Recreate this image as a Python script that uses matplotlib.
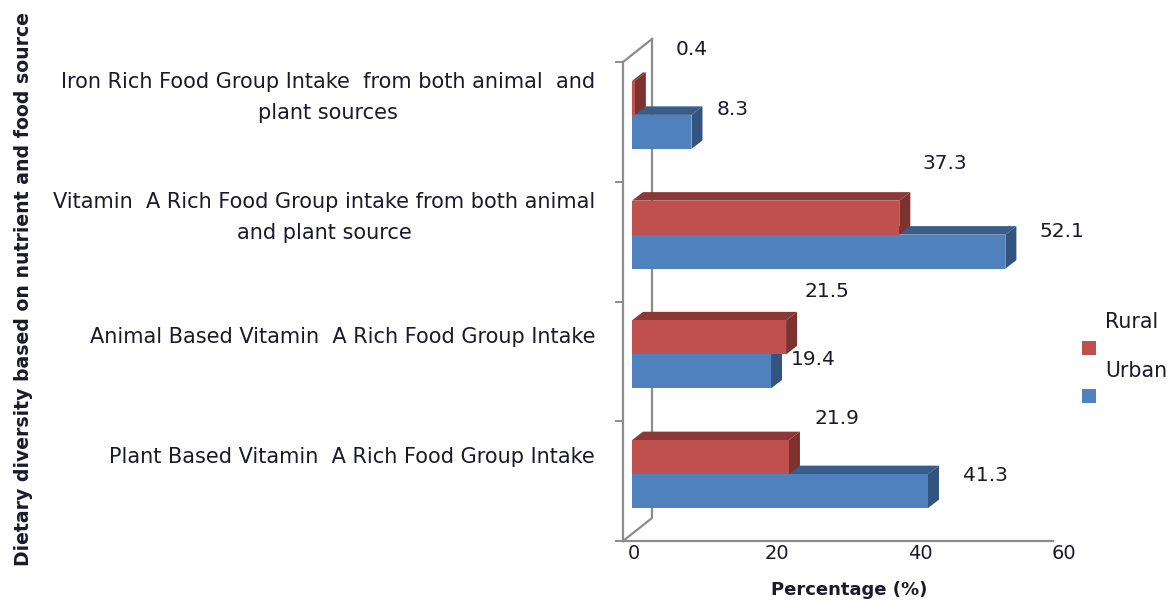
import numpy as np
import matplotlib
matplotlib.use("Agg")
from matplotlib import pyplot as plt
from matplotlib.patches import Polygon, Rectangle
from matplotlib.transforms import Affine2D

categories = ["Plant Based Vitamin  A Rich Food Group Intake",
              "Animal Based Vitamin  A Rich Food Group Intake",
              "Vitamin  A Rich Food Group intake from both animal\nand plant source",
              "Iron Rich Food Group Intake  from both animal  and\nplant sources"]
urban = [41.3, 19.4, 52.1, 8.3]
rural = [21.9, 21.5, 37.3, 0.4]
x_ticks = [0, 20, 40, 60]

W, H = 1172, 603
plt.rcParams['font.family'] = ['DejaVu Sans']
txt_col = "#1a1a2a"
axis_col = "#8c8c8c"

fig = plt.figure(figsize=(W / 100, H / 100), dpi=100)
# axes box is the front plane of the 3d frame, in image pixels
left, right, top, bottom = 623, 1053, 62, 541
ax = fig.add_axes([left / W, 1 - bottom / H, (right - left) / W, (bottom - top) / H])
ax.set_xlim(0, 60)
ax.set_ylim(0, 4)
ax.patch.set_visible(False)
for s in ["top", "right"]:
    ax.spines[s].set_visible(False)
for s in ["left", "bottom"]:
    ax.spines[s].set_color(axis_col)
    ax.spines[s].set_linewidth(1.6)

px = 60 / (right - left)   # data units per pixel
py = 4 / (bottom - top)

# back wall of the frame
wall_dx, wall_dy = 29 * px, 23 * py
ax.plot([0, wall_dx, wall_dx], [0, wall_dy, 4 + wall_dy], color=axis_col, lw=1.6, clip_on=False, zorder=1)
ax.plot([0, wall_dx], [4, 4 + wall_dy], color=axis_col, lw=1.6, clip_on=False, zorder=1)

# bars: front plane sits a little inside the frame
x0 = 9 * px
y_shift = 7 * py
bar_h = 34 * py
dx, dy = 11 * px, 8.5 * py
y = np.arange(len(categories)) + 0.5 + y_shift


def draw_bars(vals, ypos, front, side, topc, z):
    ax.barh(ypos, vals, height=bar_h, left=x0, color=front, linewidth=0, zorder=z + 0.2)
    for v, yy in zip(vals, ypos):
        x1 = x0 + v
        y0, y1 = yy - bar_h / 2, yy + bar_h / 2
        ax.add_patch(Polygon([(x0, y1), (x1, y1), (x1 + dx, y1 + dy), (x0 + dx, y1 + dy)],
                             facecolor=topc, edgecolor="none", zorder=z, clip_on=False))
        ax.add_patch(Polygon([(x1, y0), (x1, y1), (x1 + dx, y1 + dy), (x1 + dx, y0 + dy)],
                             facecolor=side, edgecolor="none", zorder=z + 0.1, clip_on=False))


draw_bars(urban, y - bar_h / 2, "#4f81bd", "#32547e", "#385d8a", 2)
draw_bars(rural, y + bar_h / 2, "#c0504d", "#7d3230", "#8c3836", 3)

# ticks
ax.set_xticks(x_ticks)
ax.set_xticklabels([str(t) for t in x_ticks], fontsize=14, color=txt_col)
ax.tick_params(axis="x", length=0, pad=2)
for lab in ax.get_xticklabels():
    lab.set_transform(lab.get_transform() + Affine2D().translate(11, 0))

ax.set_yticks(range(5))
ax.set_yticklabels([])
ax.tick_params(axis="y", which="major", length=6, width=1.4, color=axis_col)
ax.set_yticks(np.arange(4) + 0.5, minor=True)
ax.set_yticklabels(categories, minor=True, fontsize=15, color=txt_col, ha="right", linespacing=1.7)
ax.tick_params(axis="y", which="minor", length=0, pad=20)
for lab in ax.get_yticklabels(minor=True):
    lab.set_multialignment("center")
    shift = 32 if "\n" in lab.get_text() else 26
    lab.set_transform(lab.get_transform() + Affine2D().translate(0, shift))

# data labels, hand placed in the original
urban_off = [(57, 16), (42, 12), (57, 20), (41, 22)]
rural_off = [(48, 39), (41, 46), (45, 54), (57, 48)]
for v, yy, o in zip(urban, y - bar_h / 2, urban_off):
    ax.annotate(str(v), (x0 + v, yy), xytext=o, textcoords="offset pixels",
                fontsize=14.5, color=txt_col, ha="center", va="center", annotation_clip=False)
for v, yy, o in zip(rural, y + bar_h / 2, rural_off):
    ax.annotate(str(v), (x0 + v, yy), xytext=o, textcoords="offset pixels",
                fontsize=14.5, color=txt_col, ha="center", va="center", annotation_clip=False)

# axis titles
fig.text(849 / W, 1 - 590 / H, "Percentage (%)", fontsize=13, fontweight="bold", color=txt_col,
         ha="center", va="center")
fig.text(24 / W, 1 - 289 / H, "Dietary diversity based on nutrient and food source", rotation=90,
         fontsize=13.6, fontweight="bold", color=txt_col, ha="center", va="center")

# legend
for name, col, ty, sy in [("Rural", "#c0504d", 322, 348), ("Urban", "#4f81bd", 371, 396)]:
    fig.text(1105 / W, 1 - ty / H, name, fontsize=14.8, color=txt_col, ha="left", va="center")
    fig.add_artist(Rectangle((1082 / W, 1 - sy / H - 6.5 / H), 14 / W, 14 / H, facecolor=col,
                             edgecolor="none", transform=fig.transFigure))

fig.savefig("out.png", dpi=100)
